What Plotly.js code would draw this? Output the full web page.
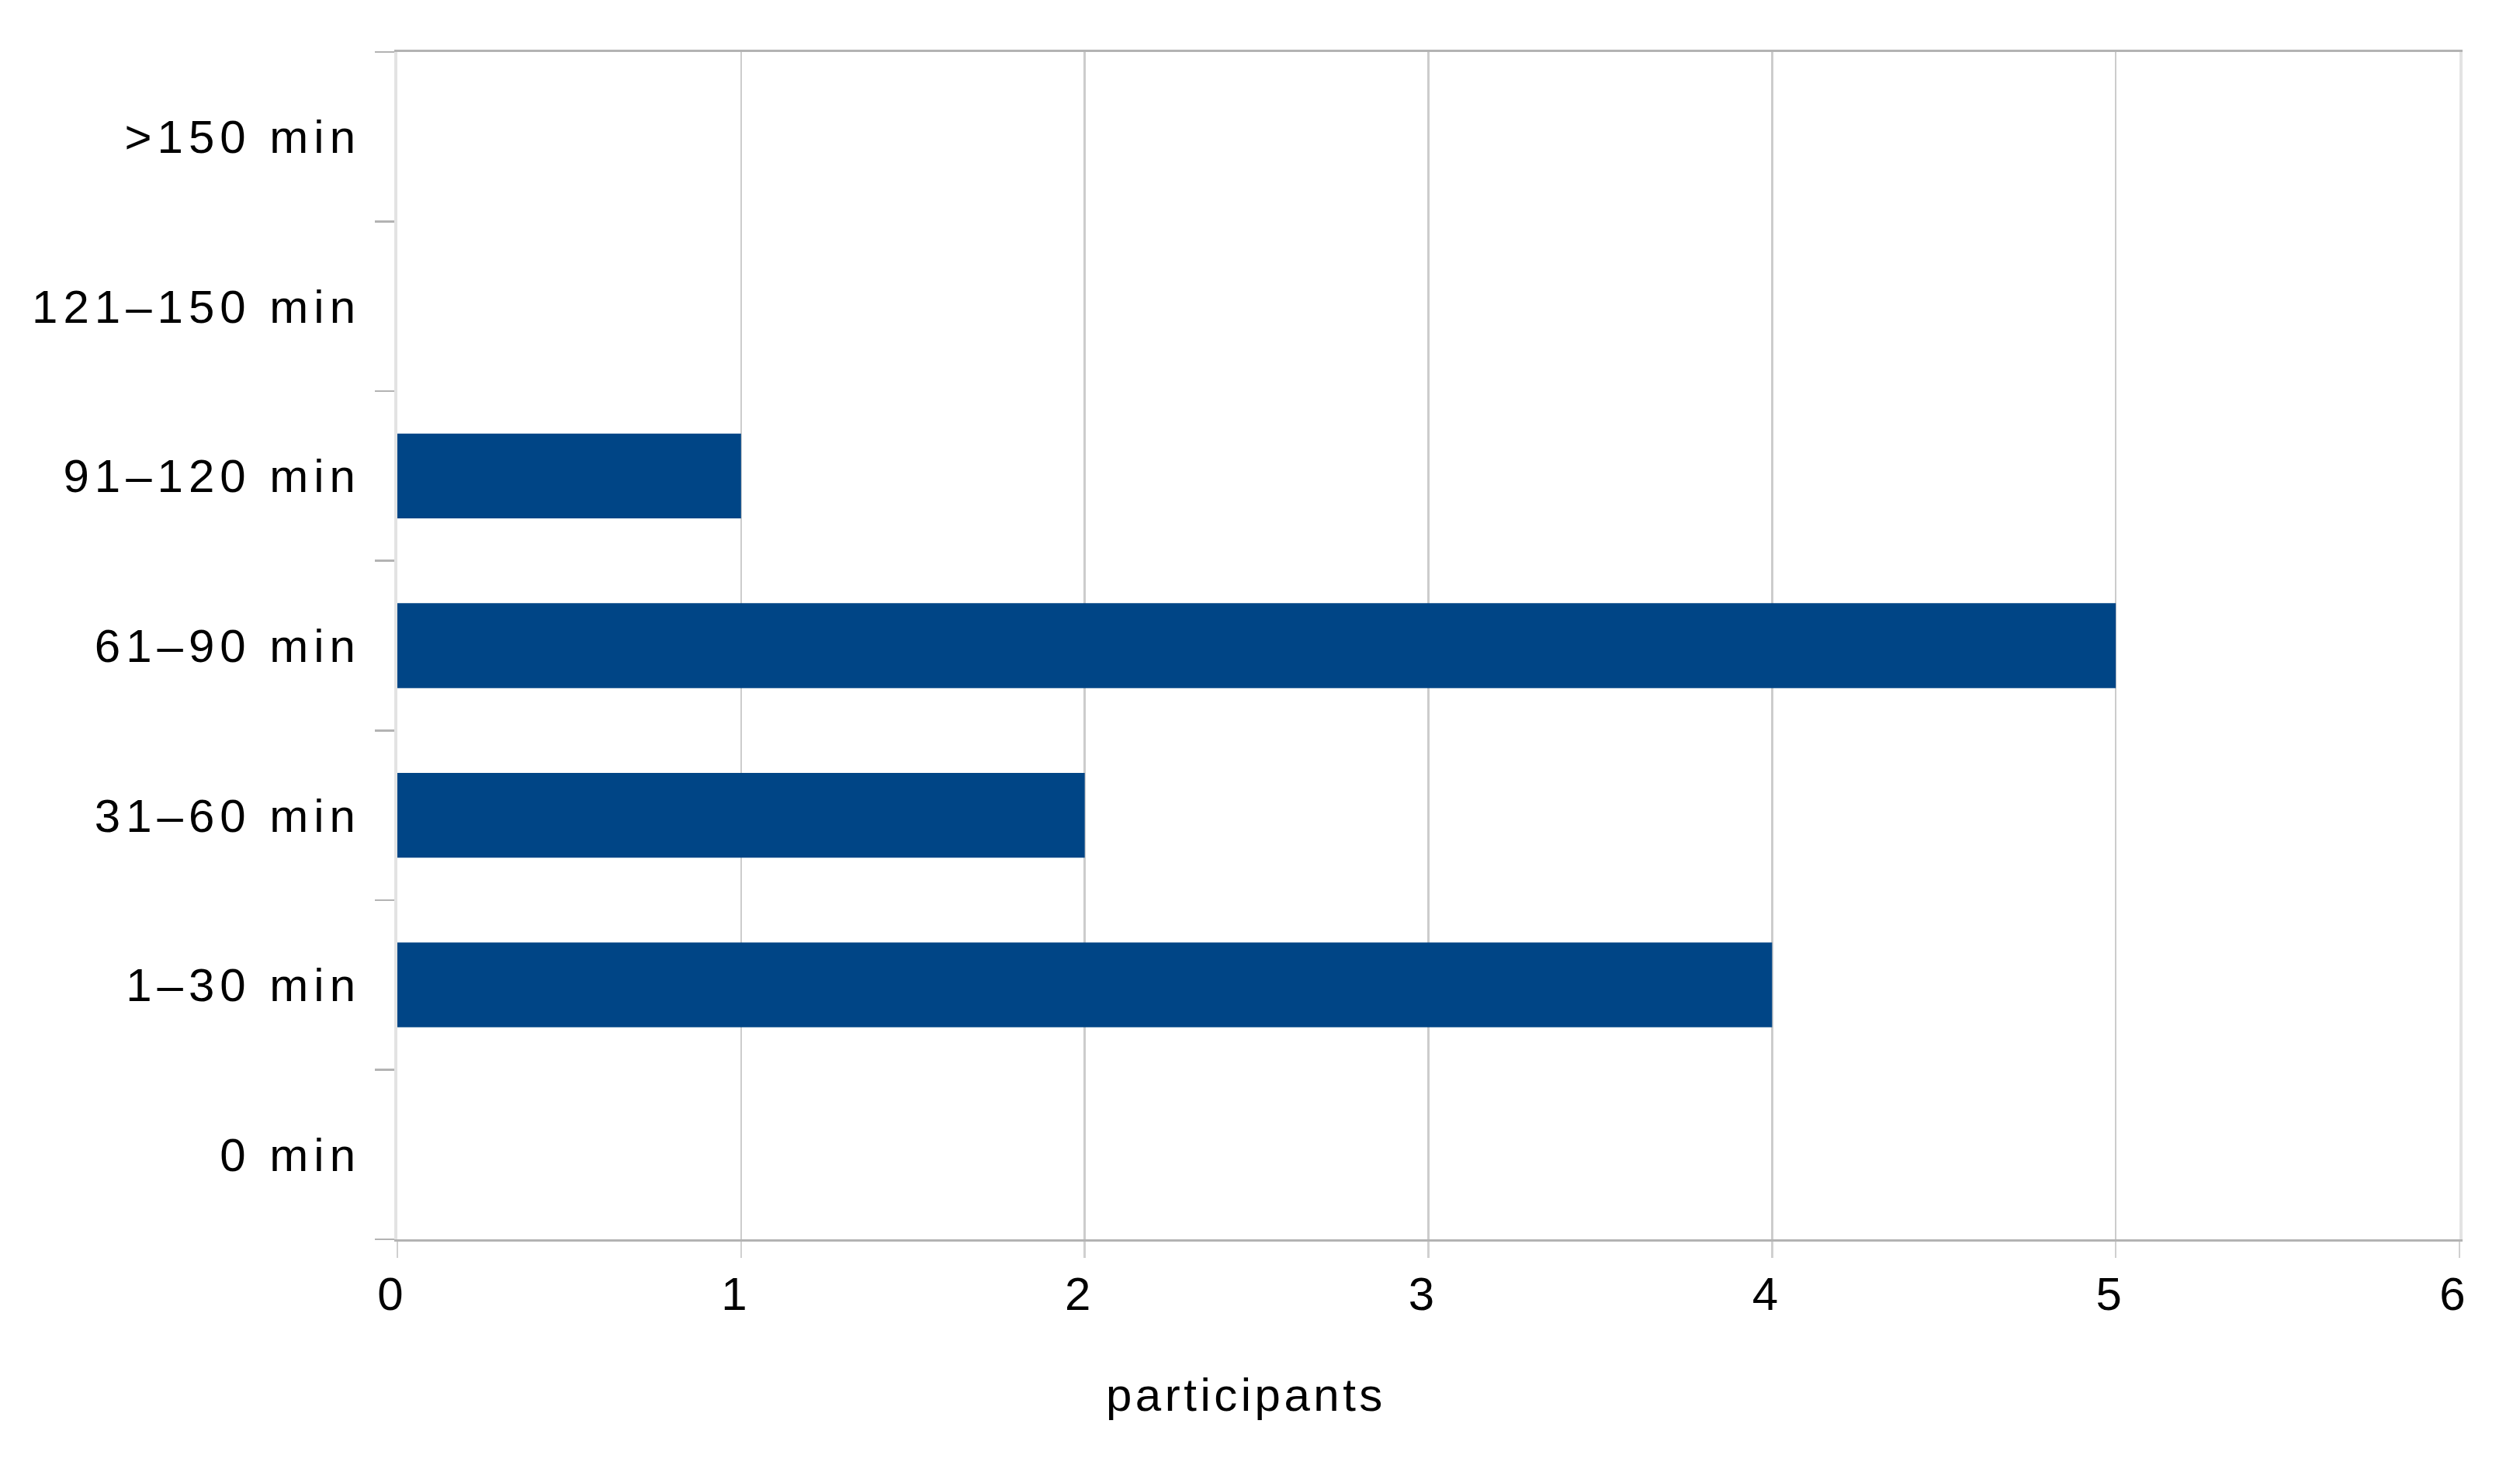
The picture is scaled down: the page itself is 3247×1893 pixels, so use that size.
<!DOCTYPE html>
<html>
<head>
<meta charset="utf-8">
<script src="https://cdn.plot.ly/plotly-3.0.1.min.js"></script>
<style>
  html, body { margin: 0; padding: 0; background: #ffffff; }
  #chart { width: 3247px; height: 1893px; }
  .ytick text { letter-spacing: 7px; }
  .annotation-text { letter-spacing: 4.5px; }
</style>
</head>
<body>
<div id="chart"></div>
<script>
// Data
const categories = ["0 min", "1–30 min", "31–60 min", "61–90 min", "91–120 min", "121–150 min", ">150 min"];
const participants = [0, 4, 2, 5, 1, 0, 0];
const xTickValues = [0, 1, 2, 3, 4, 5, 6];
const xAxisLabel = "participants";

const FONT = '"Liberation Sans", Arial, sans-serif';

const trace = {
  type: 'bar',
  orientation: 'h',
  x: participants,
  y: categories,
  marker: { color: '#004586', line: { width: 0 } },
  hoverinfo: 'skip'
};

const layout = {
  width: 3247,
  height: 1893,
  margin: { l: 512, r: 78, t: 67, b: 296, pad: 0 },
  paper_bgcolor: '#ffffff',
  plot_bgcolor: '#ffffff',
  showlegend: false,
  bargap: 0.5,
  font: { family: FONT, size: 60, color: '#000000' },
  xaxis: {
    range: [0, 6],
    tickvals: xTickValues,
    ticktext: xTickValues.map(String),
    showgrid: true,
    gridcolor: '#cccccc',
    gridwidth: 2.5,
    zeroline: false,
    showline: true,
    mirror: true,
    linecolor: '#b3b3b3',
    linewidth: 2.7,
    ticks: 'outside',
    ticklen: 21,
    tickwidth: 2.5,
    tickcolor: '#d0d0d0',
    ticklabelshift: -9,
    ticklabelstandoff: -5,
    tickfont: { family: FONT, size: 60, color: '#000000' },
    fixedrange: true
  },
  yaxis: {
    type: 'category',
    categoryorder: 'array',
    categoryarray: categories,
    range: [-0.5, categories.length - 0.5],
    tickson: 'boundaries',
    ticks: 'outside',
    ticklen: 25,
    tickwidth: 2.5,
    tickcolor: '#b3b3b3',
    showgrid: false,
    zeroline: false,
    showline: true,
    mirror: true,
    linecolor: '#e3e3e3',
    linewidth: 4,
    ticklabelstandoff: 31,
    tickfont: { family: FONT, size: 60, color: '#000000' },
    fixedrange: true
  },
  annotations: [{
    text: xAxisLabel,
    xref: 'paper', yref: 'paper',
    x: 0.4117, y: -0.131,
    xanchor: 'center', yanchor: 'middle',
    showarrow: false,
    font: { family: FONT, size: 60, color: '#000000' }
  }]
};

Plotly.newPlot('chart', [trace], layout, { displayModeBar: false, staticPlot: true });
</script>
</body>
</html>
